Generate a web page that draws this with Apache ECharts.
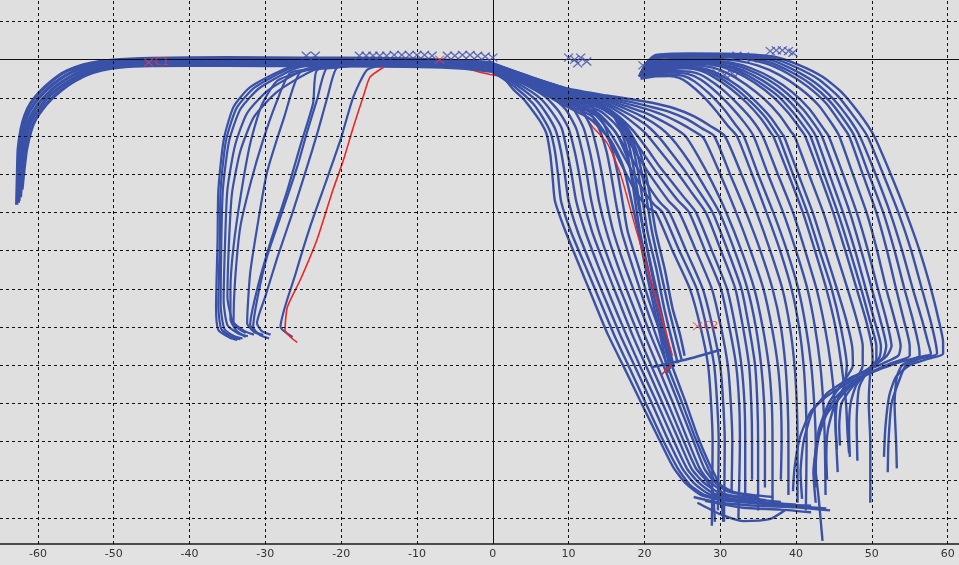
<!DOCTYPE html>
<html><head><meta charset="utf-8">
<script src="https://cdn.jsdelivr.net/npm/echarts@6/dist/echarts.min.js"></script>
<style>html,body{margin:0;padding:0;background:#e2e2e2;}#c{width:959px;height:565px;}</style>
</head><body><div id="c"></div>
<script>
// ---- tick / grid values ----
const xTicks = [-60,-50,-40,-30,-20,-10,0,10,20,30,40,50,60];
const yGrid = [10,0,-10,-20,-30,-40,-50,-60,-70,-80,-90,-100,-110,-120];

// ---- thick band on the far left ----
const leftBand = [
 [[-62.8,-38],[-62.7,-30],[-62.6,-23.5],[-62.2,-18],[-61.7,-14.5],[-60.9,-11.3],[-59.7,-8.4],[-58.3,-5.8],[-56.8,-3.6],[-55,-2],[-53,-0.9],[-50.4,-0.2],[-45,0.3],[-35,0.5],[-25,0.4],[-15,0.3],[-8,0],[-3,-0.4],[0,-0.8]],
 [[-62.6,-37.5],[-62.5,-30],[-62.3,-23.5],[-61.9,-18.1],[-61.4,-14.8],[-60.5,-11.6],[-59.3,-8.8],[-57.9,-6.3],[-56.4,-4.2],[-54.6,-2.5],[-52.6,-1.4],[-50.2,-0.7],[-45,-0.2],[-35,0],[-25,-0.1],[-15,-0.2],[-8,-0.4],[-3,-0.9],[0,-1.4]],
 [[-62.5,-37],[-62.3,-30],[-62.1,-23.5],[-61.6,-18.2],[-61,-15.1],[-60.1,-12],[-58.9,-9.3],[-57.5,-6.8],[-56,-4.8],[-54.2,-3],[-52.2,-1.8],[-50,-1.1],[-45,-0.6],[-35,-0.5],[-25,-0.6],[-15,-0.7],[-8,-0.9],[-3,-1.4],[0,-2]],
 [[-62.3,-36],[-62.1,-30],[-61.8,-23.5],[-61.3,-18.4],[-60.7,-15.4],[-59.7,-12.4],[-58.6,-9.8],[-57.2,-7.4],[-55.7,-5.4],[-53.9,-3.5],[-51.9,-2.3],[-49.7,-1.5],[-45,-1.1],[-35,-1],[-25,-1.1],[-15,-1.2],[-8,-1.4],[-3,-1.9],[0,-2.6]],
 [[-62.1,-34],[-61.9,-30],[-61.5,-23.5],[-60.9,-18.5],[-60.3,-15.6],[-59.3,-12.7],[-58.2,-10.3],[-56.9,-8],[-55.4,-5.9],[-53.6,-4],[-51.5,-2.7],[-49.4,-2],[-45,-1.6],[-35,-1.5],[-25,-1.6],[-15,-1.7],[-8,-1.9],[-3,-2.4],[0,-3.1]]
];

// ---- middle group (falling to the left) ----
const midCurves = [
 [[-22,-0.5],[-27.1,-2.2],[-32,-7.2],[-34.2,-12.4],[-35.5,-21.1],[-36.2,-34.2],[-36.3,-47.2],[-36.5,-64.8],[-36.2,-70.8],[-34.6,-72.9],[-33.7,-73.4]],
 [[-21.5,-0.5],[-26.6,-2.2],[-31.4,-7.3],[-33.8,-12.7],[-35.2,-21.3],[-35.9,-34],[-36,-47],[-36.2,-64.5],[-35.8,-70.6],[-34.3,-72.7],[-33.3,-73.2]],
 [[-21,-0.5],[-26,-2.3],[-30.8,-7.5],[-33.3,-13],[-34.8,-21.5],[-35.6,-34],[-35.8,-47],[-35.9,-64],[-35.4,-70.5],[-34,-72.5],[-33,-73]],
 [[-20,-0.6],[-24.8,-2.6],[-29.6,-8],[-32.4,-14],[-34,-22.5],[-35,-34],[-35.3,-47],[-35.5,-63],[-35,-69.5],[-33.5,-71.8],[-32.3,-72.4]],
 [[-19,-0.7],[-23.8,-2.9],[-28.5,-8.5],[-31.5,-15],[-33.3,-24],[-34.4,-35],[-34.8,-48],[-35,-62],[-34.3,-68.5],[-32.8,-71],[-31.5,-72]],
 [[-18,-0.8],[-24,-2.5],[-28.4,-5.5],[-30.5,-12],[-32,-22],[-33.2,-35],[-34.2,-49],[-34.6,-60],[-34.6,-68],[-33.8,-71],[-32.6,-72.6]],
 [[-17,-0.8],[-22,-2],[-26.7,-3.5],[-28.5,-11],[-30.3,-21.1],[-31.9,-32],[-33.3,-43.8],[-34,-58],[-34.2,-69],[-32.6,-71.6]],
 [[-16,-1],[-21,-2.2],[-25.4,-3.3],[-27.5,-15],[-29.8,-29.7],[-31,-43],[-32,-55.9],[-32.4,-69],[-31.5,-71.3],[-30.3,-72.1]],
 [[-15,-1],[-19.5,-1.8],[-23.2,-2.8],[-23.7,-11.4],[-25.3,-22],[-27.1,-34.2],[-29.2,-47],[-31.1,-60.3],[-32,-69.4],[-31.3,-71.3],[-30.3,-72.1]],
 [[-14,-1],[-18,-1.5],[-21.8,-2],[-23.2,-10.6],[-24.5,-19],[-25.8,-28.1],[-27.8,-40],[-29.8,-51.7],[-31,-62],[-31.6,-70],[-30.8,-72],[-29.5,-73]],
 [[-13,-1],[-17,-1.5],[-20.5,-2],[-21.8,-9.8],[-23.1,-19],[-24.5,-28.1],[-26.4,-40],[-28.4,-51.7],[-30,-62],[-31.1,-69],[-30.5,-71],[-29.3,-72]],
 [[-12,-1],[-14.5,-1.5],[-16.6,-2.7],[-18.4,-9.8],[-20.1,-21.1],[-22.1,-32.5],[-24.1,-43.8],[-26,-56],[-28,-70],[-27.2,-71.6],[-26.4,-72.6]]
];

// ---- right fan: curves leaving the band and ending in the bottom band ----
const fanFromBand = [
 [[0,-3.4],[1.5,-5],[2.7,-7.8],[3.9,-10],[4.9,-12.4],[6.2,-16],[7.1,-19.5],[7.6,-25],[7.9,-31],[8.2,-37],[9.6,-45],[11.5,-54.3],[13.3,-63],[15.1,-71.6],[17.3,-80.5],[19.4,-89.1],[21.6,-98],[23.8,-106.7],[25.5,-111],[27.5,-114],[31,-115.5],[37,-116.5],[44,-117.5]],
 [[0,-3.2],[3,-7.3],[5.3,-11.5],[6.6,-15.2],[7.6,-19],[8.2,-24],[8.6,-30],[9,-37],[10.3,-45],[12.2,-54],[14.1,-63],[16,-72],[18.1,-81],[20.2,-90],[22.3,-99],[24.4,-107],[26,-111.3],[28,-114],[32,-115.5],[42,-116.8]],
 [[0,-3],[3.3,-6.9],[5.8,-10.8],[7.2,-14.5],[8.3,-18.5],[9,-24],[9.5,-30],[10,-37],[11.2,-45],[13,-54],[14.9,-63],[16.8,-72],[18.9,-81],[21,-90],[23,-99],[25,-107],[26.6,-111],[28.6,-113.8],[33,-115.3],[40,-116.5]],
 [[0,-2.9],[3.6,-6.6],[6.3,-10.2],[7.9,-14],[9.1,-18],[9.8,-24],[10.4,-30],[11,-37],[12.2,-45],[13.9,-54],[15.7,-63],[17.6,-72],[19.6,-81],[21.7,-90],[23.7,-99],[25.6,-107],[27.2,-110.8],[29.2,-113.6],[34,-115],[38,-115.8]],
 [[0,-2.8],[4,-6.3],[6.9,-9.7],[8.7,-13.5],[10,-18],[10.8,-24],[11.4,-30],[12,-37],[13.1,-45],[14.8,-54],[16.6,-63],[18.4,-72],[20.4,-81],[22.4,-90],[24.4,-99],[26.2,-107],[27.7,-110.5],[30,-113.5],[36,-115.3]],
 [[0,-2.7],[4.3,-6],[7.5,-9.3],[9.6,-13],[11,-18],[11.8,-24],[12.4,-30],[13,-37],[14,-45],[15.6,-54],[17.4,-63],[19.2,-72],[21.1,-81],[23.1,-90],[25,-99],[26.8,-107],[28.3,-110.5],[29,-113],[29.3,-121]],
 [[0,-2.6],[4.6,-5.8],[8.1,-9],[10.5,-12.5],[12,-18],[12.8,-24],[13.4,-30],[14,-37],[15,-45],[16.5,-54],[18.2,-63],[20,-72],[21.9,-81],[23.8,-90],[25.6,-99],[27.3,-107],[28.6,-110.5],[30.2,-113.2],[30.4,-121]],
 [[0,-2.5],[4.8,-5.6],[8.7,-8.8],[11.4,-12],[13,-18],[13.8,-24],[14.4,-30],[15,-37],[15.9,-45],[17.4,-54],[19.1,-63],[20.8,-72],[22.7,-81],[24.5,-90],[26.3,-99],[27.9,-107],[29.2,-110.5],[31,-113],[35,-114.6]],
 [[0,-2.4],[5,-5.8],[9.2,-8.9],[12.2,-12],[14,-18],[15,-24],[15.6,-30],[16.2,-37],[17,-45],[18.4,-54],[19.9,-63],[21.5,-72],[23.2,-81],[25,-90],[26.7,-99],[28.2,-106],[29.4,-110.5],[32,-113.3],[37,-114.5]],
 [[0,-2.3],[5.2,-5.7],[9.6,-8.8],[12.8,-11.8],[14.8,-17.5],[15.8,-24],[16.5,-30],[17.1,-37],[17.8,-45],[19.2,-54],[20.6,-63],[22.2,-72],[23.8,-81],[25.5,-90],[27.1,-99],[28.6,-106],[29.8,-111],[30.4,-120]]
];

// ---- dense bundle ending near C2 ----
const denseBundle = [
 [[0,-1],[5,-4.6],[10,-7.8],[13.5,-10.5],[16,-15],[17.5,-22],[18.4,-32],[19.4,-45],[20.5,-55],[21.6,-65],[22.7,-75],[23.4,-81]],
 [[0,-1.3],[5,-5],[10,-8.3],[13.8,-11],[16.3,-15.5],[17.9,-22],[18.9,-32],[19.9,-45],[21,-55],[22.1,-65],[23.2,-75],[23.9,-80.5]],
 [[0,-1.6],[5,-5.4],[10,-8.8],[14,-11.6],[16.7,-16],[18.4,-22.5],[19.4,-32],[20.4,-45],[21.6,-55],[22.6,-65],[23.7,-74],[24.4,-79.5]],
 [[0,-1.9],[5,-5.8],[10,-9.3],[14.3,-12.2],[17.1,-16.6],[18.8,-23],[19.9,-32],[21,-45],[22.1,-55],[23.2,-65],[24.2,-73],[24.9,-78.5]],
 [[0,-2.2],[5,-6.2],[10,-9.8],[14.6,-12.8],[17.5,-17.2],[19.3,-23.5],[20.4,-32],[21.5,-45],[22.7,-55],[23.7,-65],[24.7,-72],[25.3,-77.5]],
 [[0,-2.5],[5,-6.6],[9.5,-10.5],[13.5,-14],[16.2,-19],[17.8,-26],[18.9,-35],[19.9,-45],[20.9,-55],[21.9,-65],[23,-75],[23.7,-80]],
 [[0,-2.8],[5,-7],[9,-11.5],[12.8,-15.5],[15.5,-21],[17.2,-28],[18.3,-37],[19.3,-46],[20.3,-56],[21.4,-66],[22.5,-76],[23.1,-82]],
 [[21,-80.5],[25.5,-78.5],[30,-76]]
];

// ---- bottom band ----
const bottomBand = [
 [[26.5,-114.5],[30,-116],[35,-116.8],[40,-117.2],[44.5,-118]],
 [[28,-115.5],[33,-117.3],[38,-117.8],[42,-118.5]],
 [[27,-116],[30,-119],[33,-120.8],[36.5,-120.3],[38.5,-118]]
];

// ---- right fan: curves with a top shoulder ----
const fanCurves = [
 [[19.3,-4.5],[20.2,-1],[21.5,1.2],[26,1.6],[32,1.5],[37,0.8],[40.5,-1.5],[43.5,-4.5],[46,-8.5],[48.3,-14],[50.3,-20],[52.5,-30],[54.5,-40],[56.3,-50],[57.8,-60],[58.8,-68],[59.4,-74],[59.4,-77],[57.5,-78.3],[55,-80],[53.2,-83],[52.3,-88],[51.8,-96],[51.6,-104]],
 [[19.3,-4.4],[20.3,-0.9],[21.6,1.05],[26.5,1.4],[32.5,1.2],[36.8,0.4],[40,-2],[43,-5.2],[45.5,-9.5],[47.6,-14.8],[49.4,-20],[51.5,-30],[53.5,-40],[55.2,-50],[56.6,-60],[57.7,-68],[58.4,-74],[58.6,-77],[56.5,-78.2],[54.5,-80],[53.6,-84],[52.6,-90],[52.2,-100],[52.1,-108]],
 [[19.4,-4.3],[20.4,-0.8],[21.8,0.9],[27,1.2],[33,0.9],[36.5,0],[39.5,-2.5],[42.5,-6],[45,-10.5],[47,-15.5],[48.4,-20],[50.5,-30],[52.4,-40],[54,-50],[55.4,-60],[56.6,-68],[57.4,-74],[57.8,-77],[56,-78],[54,-80],[53.3,-83],[53,-90],[53.2,-100],[53.3,-107]],
 [[19.4,-4.2],[20.5,-0.8],[21.9,0.7],[27.5,1],[33,0.6],[36.2,-0.5],[39.1,-3],[42,-6.5],[44.5,-11],[46.5,-16.2],[47.7,-20],[49.6,-30],[51.5,-40],[53,-50],[54.3,-60],[55.4,-68],[56.2,-75],[56.3,-77.5],[54,-79],[50.5,-81.5],[47.5,-84.5],[45.2,-88.5],[43.6,-94],[42.8,-101],[42.5,-109]],
 [[19.4,-4.2],[20.5,-0.8],[22,0.5],[28,0.8],[33,0.3],[36,-1],[38.8,-3.5],[41.5,-7],[44,-11.5],[46,-17],[47,-20],[48.8,-30],[50.6,-40],[52,-50],[53.2,-60],[54.2,-68],[55,-75],[55,-77.5],[52.5,-79.5],[48,-83.5],[44.5,-87.5],[42,-92],[40.5,-99],[39.8,-107],[39.6,-113]],
 [[19.4,-4],[20.6,-1],[22.5,0],[28,0.3],[32,-0.2],[35,-1.6],[37.8,-4],[40.5,-7.5],[43,-12],[44.8,-17],[45.7,-20],[47.5,-30],[49.3,-40],[50.7,-50],[51.9,-60],[53,-68],[53.8,-75],[53.5,-77.5],[51.5,-79.5],[47.5,-83],[44.3,-87],[42.2,-92],[41,-100],[40.6,-108],[40.8,-115]],
 [[19.4,-4],[20.7,-1.2],[23,-0.4],[28,-0.2],[31.5,-0.8],[34,-2.2],[36.8,-4.8],[39.5,-8.5],[41.8,-13],[43.6,-18],[44.3,-20],[46.2,-30],[48,-40],[49.5,-50],[50.8,-60],[51.9,-68],[52.6,-75],[52,-77.5],[50,-80.5],[47,-84],[45.5,-89],[45.2,-95],[45.4,-102]],
 [[19.4,-4],[20.8,-1.3],[23,-0.6],[27.5,-0.4],[31,-1],[33.5,-2.5],[36.2,-5.1],[38.8,-8.8],[41,-13.2],[42.8,-18],[43.4,-20],[45.3,-30],[47.1,-40],[48.6,-50],[50,-60],[51.1,-68],[51.9,-75],[51.5,-78],[49.8,-81],[48,-85],[47.2,-90],[47,-97],[47.1,-104]],
 [[19.5,-4],[21,-1.5],[23,-0.9],[27,-0.7],[30.5,-1.3],[33,-2.8],[35.6,-5.5],[38.2,-9.2],[40.3,-13.5],[42,-18],[42.6,-20],[44.4,-30],[46.2,-40],[47.8,-50],[49.2,-60],[50.3,-68],[51.2,-75],[51,-78],[49.5,-81.5],[48.3,-86],[48,-95],[48.1,-105]],
 [[19.5,-4],[21,-1.7],[23,-1.2],[27,-0.9],[30.2,-1.5],[32.5,-3],[35,-5.8],[37.6,-9.5],[39.6,-13.8],[41.3,-18.2],[41.9,-20],[43.7,-30],[45.5,-40],[47.1,-50],[48.6,-60],[49.7,-68],[50.6,-75],[50.6,-78.5],[49,-82],[47.3,-86],[46,-90],[45.7,-96],[45.8,-101]],
 [[19.5,-4],[21,-2],[23,-1.4],[27,-1.1],[29.8,-1.7],[32,-3.2],[34.5,-6],[37,-9.8],[39,-14],[40.7,-18.5],[41.2,-20],[43.1,-30],[44.9,-40],[46.5,-50],[48,-60],[49.2,-68],[50,-75],[50.1,-79],[49.8,-82],[49.6,-90],[49.8,-100],[49.8,-116]],
 [[19.5,-4],[21.2,-2.3],[23,-1.8],[26.5,-1.5],[29,-2.1],[31,-3.6],[33.4,-6.5],[35.8,-10.3],[37.8,-14.5],[39.4,-19],[39.8,-20],[41.7,-30],[43.6,-40],[45.2,-50],[46.8,-60],[48,-68],[48.8,-75],[48.8,-80],[47.8,-84],[46,-88],[44,-93],[42.8,-100],[42.3,-108],[42.6,-116]],
 [[19.5,-4],[21.3,-2.7],[23,-2.2],[26,-1.9],[28.2,-2.5],[30,-4],[32.4,-7],[34.6,-10.8],[36.6,-15],[38.2,-19.5],[38.4,-20],[40.3,-30],[42.2,-40],[43.8,-50],[45.4,-60],[46.6,-68],[47.4,-75],[47.5,-80],[46,-85],[44.3,-90],[43,-97],[42.5,-105],[43,-115],[43.5,-126]],
 [[19.5,-4.1],[21.3,-2.8],[23,-2.4],[25.8,-2.1],[27.8,-2.7],[29.5,-4.2],[31.8,-7.2],[34,-11],[36,-15.2],[37.5,-19.5],[37.7,-20],[39.6,-30],[41.5,-40],[43.1,-50],[44.7,-60],[45.9,-70],[46.7,-80],[46.3,-86],[45,-91],[44.2,-97],[44,-104],[44.1,-110]],
 [[19.5,-4.2],[21.4,-3],[23,-2.6],[25.5,-2.3],[27.4,-2.9],[29,-4.4],[31.3,-7.5],[33.5,-11.3],[35.4,-15.5],[36.8,-19.5],[37,-20],[39,-30],[40.9,-40],[42.5,-50],[44,-60],[45.2,-70],[46,-80],[46.6,-90],[46.8,-98],[47,-103]],
 [[19.5,-4.3],[21.5,-3.3],[24,-3],[26.6,-3.4],[28.2,-4.8],[30.4,-8],[32.5,-12],[34.3,-16],[35.6,-20],[37.6,-30],[39.6,-40],[41.2,-50],[42.7,-60],[43.8,-70],[44.6,-80],[45.1,-90],[45.3,-100],[45.5,-108]],
 [[19.5,-4.5],[21.5,-3.6],[23.5,-3.4],[25.8,-3.8],[27.4,-5.2],[29.5,-8.5],[31.5,-12.5],[33.2,-16.5],[34.4,-20],[36.3,-30],[38.3,-40],[40,-50],[41.5,-60],[42.5,-70],[43.2,-80],[43.6,-90],[43.8,-100],[43.9,-114]],
 [[19.5,-4.7],[21.5,-4],[23.5,-3.9],[25.2,-4.3],[26.6,-5.7],[28.6,-9],[30.5,-13],[32,-17],[33.1,-20],[35,-30],[37,-40],[38.8,-50],[40.3,-60],[41.3,-70],[42,-80],[42.4,-90],[42.6,-100],[42.6,-112]],
 [[19.5,-5],[21.5,-4.4],[23.3,-4.3],[24.6,-4.8],[25.8,-6.2],[27.7,-9.5],[29.5,-13.5],[31,-17.3],[32.2,-20],[34.2,-30],[36.1,-40],[37.9,-50],[39.4,-60],[40.4,-70],[41,-80],[41.3,-90],[41.4,-100],[41.3,-118]],
 [[0,-1],[5,-4.5],[10,-7.6],[15,-9.4],[18,-10.3],[21,-11.3],[24,-12.8],[26.5,-14.8],[28.8,-17.5],[30.6,-20],[32.8,-30],[34.8,-40],[36.6,-50],[38.2,-60],[39.2,-70],[39.8,-80],[40.1,-90],[40.2,-100],[40.2,-116]],
 [[0,-1.1],[5,-4.6],[10,-7.8],[15,-9.8],[18,-11],[20.5,-12.2],[23.2,-13.6],[25.6,-15.6],[27.6,-18],[29.2,-20],[31.3,-30],[33.4,-40],[35.3,-50],[36.9,-60],[38,-70],[38.6,-80],[38.9,-90],[39,-100],[39,-114]],
 [[0,-1.2],[5,-4.7],[10,-8],[15.4,-10.3],[17.8,-11.6],[20.2,-12.9],[22.5,-14.5],[24.6,-16.5],[26.5,-18.7],[27.8,-20.5],[30,-30],[32.1,-40],[34,-50],[35.7,-60],[36.8,-70],[37.6,-80],[38,-90],[38.1,-100],[38,-110]],
 [[0,-1.3],[5,-4.8],[10,-8.2],[15.3,-10.6],[17.6,-12.2],[19.8,-13.7],[21.8,-15.5],[23.7,-17.6],[25.4,-20],[27,-25],[28.9,-32],[30.8,-40],[32.8,-50],[34.5,-60],[35.6,-70],[36.4,-80],[36.8,-90],[36.9,-100],[36.9,-117]],
 [[0,-1.4],[5,-4.9],[10,-8.4],[15.2,-11],[17.4,-12.8],[19.4,-14.6],[21.2,-16.6],[22.8,-19],[24.2,-22],[26,-27],[28,-33.5],[29.9,-40],[31.9,-50],[33.6,-60],[34.7,-70],[35.4,-80],[35.8,-90],[35.9,-100],[35.9,-112]],
 [[0,-1.5],[5,-5],[10,-8.6],[15,-11.4],[17.1,-13.4],[19,-15.5],[20.6,-17.7],[22,-20.5],[23.4,-24],[25.3,-29],[27.2,-34.5],[29,-40],[31,-50],[32.8,-60],[33.8,-70],[34.6,-80],[34.9,-90],[35,-100],[35,-118]],
 [[0,-1.6],[5,-5.1],[10,-8.9],[14.8,-11.8],[16.8,-14],[18.5,-16.5],[20,-19],[21.3,-22],[22.7,-25.5],[24.5,-30],[26.3,-35],[28.1,-40],[30.1,-50],[32,-60],[33,-70],[33.8,-80],[34.1,-90],[34.2,-100],[34.2,-110]],
 [[0,-1.7],[5,-5.2],[10,-9.2],[14.6,-12.2],[16.5,-14.7],[18,-17.5],[19.3,-20.5],[20.6,-24],[22,-28],[23.6,-32],[25.2,-36],[26.8,-40],[28.9,-50],[30.9,-60],[32,-70],[32.8,-80],[33.2,-90],[33.3,-100],[33.3,-116]],
 [[0,-1.8],[5,-5.3],[9.5,-9.4],[14.3,-12.8],[16.2,-15.4],[17.6,-18.5],[18.8,-21.5],[20,-25],[21.4,-29],[22.9,-33],[24.4,-36.8],[25.9,-40],[28,-50],[30.1,-60],[31.2,-70],[32.1,-80],[32.5,-90],[32.6,-100],[32.4,-120]],
 [[0,-1.9],[5,-5.4],[9.3,-9.8],[14,-13.3],[15.8,-16.2],[17.2,-19.5],[18.3,-22.5],[19.4,-26],[20.6,-29.8],[21.9,-33.5],[23.2,-37],[24.6,-40],[26.8,-50],[28.9,-60],[30.1,-70],[31,-80],[31.4,-90],[31.6,-100],[31.5,-113]],
 [[0,-2],[5,-5.5],[9.1,-10.2],[13.7,-13.8],[15.4,-17],[16.7,-20.5],[17.8,-24],[18.8,-27.5],[19.9,-31],[21,-34.5],[22.1,-37.5],[23.3,-40],[25.5,-50],[27.7,-60],[29,-70],[30,-80],[30.4,-90],[30.6,-100],[30.5,-121]],
 [[0,-2.1],[5,-5.6],[9,-10.6],[13.4,-14.3],[15,-17.8],[16.2,-21.5],[17.2,-25],[18.2,-28.6],[19.2,-32],[20.2,-35.2],[21.3,-38],[22.4,-40],[24.6,-50],[26.9,-60],[28.2,-70],[29.2,-80],[29.6,-90],[29.8,-100],[29.7,-118]],
 [[0,-2.2],[5,-5.7],[8.8,-11],[13.1,-14.8],[14.6,-18.6],[15.7,-22.5],[16.6,-26],[17.5,-29.5],[18.4,-33],[19.4,-36.2],[20.4,-38.8],[21.5,-40],[23.7,-50],[26,-60],[27.4,-70],[28.4,-80],[28.8,-90],[29,-100],[28.9,-122]]
];

// ---- highlighted (red) traces ----
const redLeft = [[-14.4,-2],[-16.2,-4.6],[-17.1,-9.8],[-18.4,-17.7],[-19.7,-26.3],[-21.1,-34.2],[-23.2,-47.2],[-25.4,-57.7],[-27.1,-64.8],[-27.4,-70.8],[-26.7,-72.6],[-25.8,-74]];
const redRightTop = [[-7.3,0],[-5,-1.5],[-1.7,-3.3],[4.9,-6.2],[10.6,-11.4],[13.2,-17.7]];
const redRightLow = [[13.2,-17.7],[15.1,-21.9],[16.8,-29.7],[18.9,-44.5],[21.5,-62],[23.7,-77.5]];
const redTick = [[22.3,-82.4],[23,-81],[23.7,-80]];

// ---- markers ----
const blueMarks = [[-24.6,1],[-23.4,1],
 [-17.6,1],[-16.7,1],[-15.8,1],[-14.9,1],[-14,1],[-13,1.2],[-12,1.2],[-11,1.2],[-10,1.2],[-9,1.2],[-8,1],[-6,1],[-5,1],[-4,1.2],[-3,1.2],[-2,1],[-1,0.8],[0,0.5],
 [10,0.5],[10.8,0],[11.6,0.5],[12.4,-0.5],[11.2,-1],
 [19.8,-1.5],[20.8,-1.8],[21.8,-1.5],[22.8,-1.8],[23.6,-1.2],
 [29.6,-3.6],[30.6,-4],[31.6,-3.6],[32.6,-3.2],[32.2,1],[33.2,0.8],[34.2,0.3],
 [36.6,2.2],[37.4,2.4],[38.2,2.4],[39,2.2],[39.6,1.8]];
const redMarkNames = ['C1','','C2'];
const redMarkPos = [[-45.4,-0.7],[-7,0],[27,-69.8]];

const BLUE = '#3a51a8', RED = '#f02424';
const series = [];
function addLine(data, color, width, z) {
  series.push({type:'line', data, symbol:'none', showSymbol:false, smooth:0.2, silent:true,
    lineStyle:{color, width}, z, animation:false});
}
const gridLines = [];
xTicks.forEach(v => gridLines.push({xAxis:v, lineStyle:{color:'#111', width:1, type: v===0?'solid':[3,3]}}));
yGrid.forEach(v => gridLines.push({yAxis:v, lineStyle:{color:'#111', width:1, type: v===0?'solid':[3,3]}}));
series.push({type:'line', data:[], z:1, silent:true, animation:false,
  markLine:{silent:true, symbol:['none','none'], label:{show:false}, animation:false, data:gridLines}});

// red trace partly hidden under the band: drawn first at the same level
addLine(redRightTop, RED, 1.5, 3);
leftBand.forEach(c => addLine(c, BLUE, 3.3, 3));
midCurves.forEach(c => addLine(c, BLUE, 2.2, 3));
fanFromBand.forEach(c => addLine(c, BLUE, 2.4, 3));
fanCurves.forEach(c => addLine(c, BLUE, 2.4, 3));
denseBundle.forEach(c => addLine(c, BLUE, 2.5, 3));
bottomBand.forEach(c => addLine(c, BLUE, 2.4, 3));
addLine(redLeft, RED, 1.6, 4);
addLine(redRightLow, RED, 1.4, 4);
addLine(redTick, RED, 1.6, 4);

const XPATH = 'path://M0,0L10,10M10,0L0,10';
series.push({type:'scatter', data:blueMarks, symbol:XPATH, symbolSize:[9,8], z:5, silent:true, animation:false,
  itemStyle:{color:'rgba(0,0,0,0)', borderColor:'#3f4ea8', borderWidth:1.3}});
series.push({type:'scatter', symbol:XPATH, symbolSize:[9,8], z:6, silent:true, animation:false,
  data: redMarkPos.map((p,i)=>({name:redMarkNames[i], value:p})),
  itemStyle:{color:'rgba(0,0,0,0)', borderColor:'#e8404a', borderWidth:1.1},
  label:{show:true, position:'right', distance:1, formatter:'{b}', color:'#e83a3a', fontSize:11, fontFamily:'DejaVu Sans'}});

const chart = echarts.init(document.getElementById('c'), null, {renderer:'canvas'});
chart.setOption({
  animation:false,
  backgroundColor:'#e2e2e2',
  grid:{left:0, right:0, top:0, bottom:21, show:true, backgroundColor:'#dfdfdf', borderWidth:0},
  xAxis:{type:'value', min:-65, max:61.5,
    axisLine:{show:true, onZero:false, lineStyle:{color:'#1a1a1a', width:1.5}},
    axisTick:{show:false}, splitLine:{show:false},
    axisLabel:{customValues:xTicks, color:'#333', fontSize:11, fontFamily:'DejaVu Sans', margin:5}},
  yAxis:{type:'value', min:-126.8, max:15.6, show:false, splitLine:{show:false}},
  series
});
</script></body></html>
